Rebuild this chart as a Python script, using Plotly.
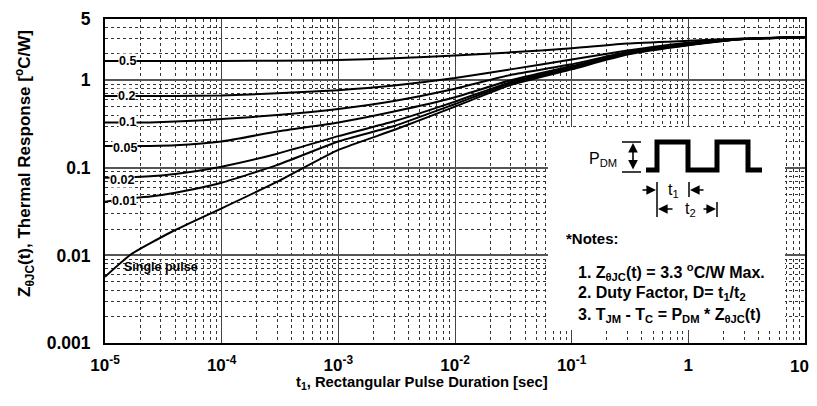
import math
import plotly.graph_objects as go

# ---------------- data ----------------
t_sec = [1e-5, 1.64e-5, 2.43e-5, 4e-5, 1e-4, 3e-4, 1e-3, 3e-3, 1e-2, 3e-2, 1e-1, 3e-1, 1, 3, 10]

z_d05 = [1.66, 1.66, 1.66, 1.66, 1.66, 1.67, 1.70, 1.78, 1.92, 2.08, 2.31, 2.62, 2.82, 3.0, 3.12]
z_d02 = [0.66, 0.66, 0.66, 0.66, 0.67, 0.71, 0.77, 0.87, 1.06, 1.33, 1.72, 2.18, 2.68, 2.97, 3.11]
z_d01 = [0.33, 0.33, 0.33, 0.337, 0.36, 0.40, 0.47, 0.58, 0.80, 1.15, 1.52, 2.10, 2.60, 2.96, 3.10]
z_d005 = [0.177, 0.177, 0.178, 0.181, 0.20, 0.26, 0.33, 0.44, 0.64, 1.0, 1.45, 2.06, 2.57, 2.95, 3.10]
z_d002 = [0.077, 0.078, 0.080, 0.085, 0.103, 0.145, 0.23, 0.34, 0.57, 0.955, 1.40, 2.03, 2.55, 2.95, 3.10]
z_d001 = [0.041, 0.045, 0.047, 0.052, 0.0676, 0.108, 0.20, 0.30, 0.535, 0.92, 1.37, 2.00, 2.52, 2.95, 3.10]
z_single = [0.0057, 0.0101, 0.0137, 0.0195, 0.0345, 0.0695, 0.16, 0.27, 0.50, 0.88, 1.33, 1.96, 2.50, 2.95, 3.10]

series = [("0.5", z_d05), ("0.2", z_d02), ("0.1", z_d01), ("0.05", z_d005),
          ("0.02", z_d002), ("0.01", z_d001), ("Single pulse", z_single)]

x_tickvals = [1e-5, 1e-4, 1e-3, 1e-2, 1e-1, 1, 10]
x_ticktext = ["10<sup>-5</sup>", "10<sup>-4</sup>", "10<sup>-3</sup>", "10<sup>-2</sup>",
              "10<sup>-1</sup>", "1", "10"]
y_tickvals = [0.001, 0.01, 0.1, 1, 5]
y_ticktext = ["0.001", "0.01", "0.1", "1", "5"]

FONT = "Liberation Sans, Arial, sans-serif"
OFF = 8  # page body margin
W, H = 817 - OFF, 406 - 2 * OFF
L, T = 105 - OFF, 19 - OFF
R = W - (805 - OFF)
B = H - (343 - OFF)
PW, PH = W - L - R, H - T - B


def px(x):
    return (x - OFF - L) / PW


def py(y):
    return (H - B - (y - OFF)) / PH


fig = go.Figure()
for name, z in series:
    fig.add_trace(go.Scatter(x=t_sec, y=z, mode="lines", name=name,
                             line=dict(color="black", width=2, shape="spline", smoothing=0.5),
                             showlegend=False, hoverinfo="skip"))

minor_x = [m * 10 ** e for e in range(-5, 1) for m in range(2, 10)]
minor_y = [m * 10 ** e for e in range(-3, 0) for m in range(2, 10)] + [2, 3, 4]

# last x tick label is drawn as an annotation so it is not clipped at the page edge
axis_ticktext = x_ticktext[:-1] + [""]

fig.update_xaxes(type="log", range=[-5, 1], tickvals=x_tickvals, ticktext=axis_ticktext,
                 automargin=False,
                 showline=True, linecolor="black", linewidth=2, mirror=True,
                 showgrid=True, gridcolor="#444", gridwidth=1, ticks="",
                 ticklabelstandoff=6,
                 tickfont=dict(family=FONT, size=17, color="black", weight="bold"),
                 minor=dict(tickvals=minor_x, showgrid=True, griddash="dot",
                            gridcolor="#333", gridwidth=1, ticks=""),
                 zeroline=False)
fig.update_yaxes(type="log", range=[-3, 0.69897], tickvals=y_tickvals, ticktext=y_ticktext,
                 automargin=False,
                 showline=True, linecolor="black", linewidth=2, mirror=True,
                 showgrid=True, gridcolor="#555", gridwidth=1.5, ticks="",
                 ticklabelstandoff=9,
                 tickfont=dict(family=FONT, size=17.5, color="black", weight="bold"),
                 minor=dict(tickvals=minor_y, showgrid=True, griddash="dot",
                            gridcolor="#333", gridwidth=1, ticks=""),
                 zeroline=False)

ann = []


def text(x, y, s, size, bold=True, xanchor="center", **kw):
    d = dict(x=px(x), y=py(y), xref="paper", yref="paper", text=s, showarrow=False,
             xanchor=xanchor, yanchor="middle",
             font=dict(family=FONT, size=size, color="black", weight="bold" if bold else "normal"))
    d.update(kw)
    return d


# last tick label, right-aligned so it stays inside the page
ann.append(text(811, 366, x_ticktext[-1], 17, xanchor="right"))

# curve labels
label_pos = {"0.5": (127.5, 61), "0.2": (126.5, 96), "0.1": (127.5, 122), "0.05": (125, 148),
             "0.02": (121.5, 180), "0.01": (123.5, 201), "Single pulse": (161, 266.7)}
for name, _ in series:
    x0, y0 = label_pos[name]
    ann.append(text(x0, y0, name, 12.5,
                    bgcolor="white" if name != "Single pulse" else "rgba(0,0,0,0)", borderpad=0))

# axis titles
ann.append(text(422, 383, "t<sub>1</sub>, Rectangular Pulse Duration [sec]", 14.8))
ann.append(text(24, 164, "Z<sub>θJC</sub>(t), Thermal Response [<sup>o</sup>C/W]", 17,
                textangle=-90))

# inset texts
ann.append(text(603, 159, "P<sub>DM</sub>", 16, bold=False))
ann.append(text(673, 190, "t<sub>1</sub>", 16, bold=False))
ann.append(text(690, 210, "t<sub>2</sub>", 16, bold=False))
ann.append(text(564, 238, "*Notes:", 15, xanchor="left"))
notes = ["1. Z<sub>θJC</sub>(t) = 3.3 <sup>o</sup>C/W Max.",
         "2. Duty Factor, D= t<sub>1</sub>/t<sub>2</sub>",
         "3. T<sub>JM</sub> - T<sub>C</sub> = P<sub>DM</sub> * Z<sub>θJC</sub>(t)"]
for i, s in enumerate(notes):
    ann.append(text(576, 271.7 + 21.7 * i, s, 16, xanchor="left"))


# arrows
def arrow(xh, yh, dx, dy, both=False):
    return dict(x=px(xh), y=py(yh), xref="paper", yref="paper", text="", showarrow=True,
                ax=dx, ay=dy, arrowhead=2, arrowsize=1.2, arrowwidth=1.6, arrowcolor="black",
                arrowside="end+start" if both else "end", standoff=0, startstandoff=0)


ann.append(arrow(633, 143, 0, 28, both=True))
ann.append(arrow(656, 190, -15, 0))
ann.append(arrow(690, 190, 15, 0))
ann.append(arrow(658, 209, 16, 0))
ann.append(arrow(716, 209, -14, 0))

shapes = []
shapes.append(dict(type="rect", xref="paper", yref="paper", x0=px(548), x1=px(785),
                   y0=py(330), y1=py(127), fillcolor="white", line=dict(width=0), layer="above"))
pulse = [(646, 170), (657, 170), (657, 142), (688, 142), (688, 170), (717, 170),
         (717, 142), (748, 142), (748, 170), (762, 170)]
path = "M " + " L ".join(f"{px(a):.5f},{py(b):.5f}" for a, b in pulse)
shapes.append(dict(type="path", xref="paper", yref="paper", path=path,
                   line=dict(color="black", width=5), layer="above"))
for (x0, y0, x1, y1) in [(622, 142, 641, 142), (622, 172, 641, 172),
                         (657, 182, 657, 217), (689, 182, 689, 197), (717, 202, 717, 217)]:
    shapes.append(dict(type="line", xref="paper", yref="paper", x0=px(x0), y0=py(y0),
                       x1=px(x1), y1=py(y1), line=dict(color="black", width=1.5), layer="above"))

fig.update_layout(width=W, height=H, margin=dict(l=L, r=R, t=T, b=B, autoexpand=False),
                  paper_bgcolor="white", plot_bgcolor="white",
                  annotations=ann, shapes=shapes,
                  font=dict(family=FONT, color="black"))

fig.write_html("out.html")
